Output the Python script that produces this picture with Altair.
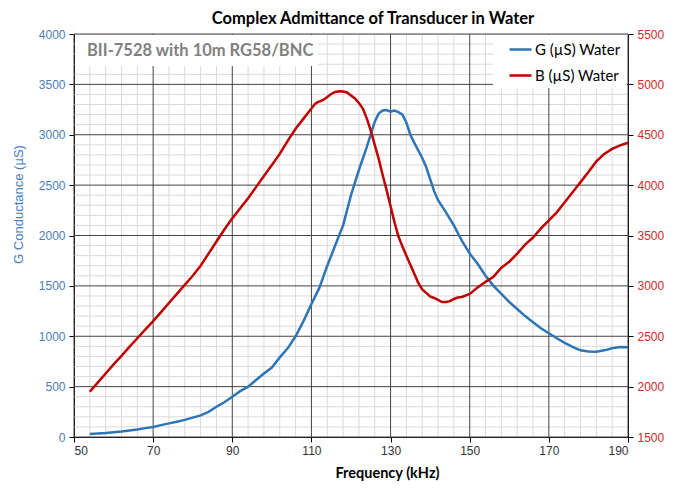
import altair as alt
import pandas as pd

# ---------------- data ----------------
freq_g = [54, 56, 58, 60, 62, 64, 66, 68, 70, 72, 74, 76, 78, 80, 82, 84, 86, 88, 90,
          92, 94, 96, 98, 100, 102, 104, 106, 108, 110, 112, 114, 116, 118, 120, 122,
          124, 126, 127, 128, 129, 130, 131, 132, 133, 134, 135, 136, 138, 139, 140,
          141, 142, 144, 146, 148, 150, 152, 154, 156, 158, 160, 162, 164, 166, 168,
          170, 172, 174, 176, 178, 180, 182, 184, 186, 188, 190]
g_vals = [30, 35, 40, 48, 55, 65, 75, 88, 100, 118, 135, 152, 170, 192, 215, 250, 300,
          345, 400, 455, 500, 565, 630, 690, 790, 880, 1000, 1150, 1320, 1480, 1700,
          1900, 2100, 2400, 2650, 2880, 3130, 3210, 3240, 3245, 3230, 3240, 3225, 3200,
          3120, 3000, 2920, 2770, 2680, 2560, 2440, 2350, 2230, 2100, 1950, 1820, 1720,
          1600, 1500, 1420, 1340, 1270, 1200, 1140, 1080, 1030, 980, 935, 895, 860, 848,
          847, 860, 880, 893, 890]

freq_b = [54, 56, 58, 60, 62, 64, 66, 68, 70, 72, 74, 76, 78, 80, 82, 84, 86, 88, 90,
          92, 94, 96, 98, 100, 102, 104, 106, 108, 110, 111, 112, 113, 114, 115, 116,
          117, 118, 119, 120, 121, 122, 123, 124, 125, 126, 127, 128, 129, 130, 131,
          132, 133, 134, 135, 136, 137, 138, 139, 140, 141, 142, 143, 144, 145, 146,
          147, 148, 150, 152, 154, 156, 158, 160, 162, 164, 166, 168, 170, 172, 174,
          176, 178, 180, 182, 184, 186, 188, 190]
b_vals = [1950, 2040, 2130, 2220, 2305, 2395, 2480, 2565, 2650, 2740, 2830, 2920, 3010,
          3100, 3200, 3320, 3440, 3560, 3670, 3770, 3870, 3980, 4090, 4200, 4310, 4440,
          4560, 4660, 4760, 4810, 4830, 4845, 4875, 4905, 4925, 4932, 4930, 4920, 4890,
          4860, 4815, 4760, 4660, 4540, 4400, 4260, 4100, 3950, 3790, 3630, 3490, 3390,
          3300, 3210, 3120, 3030, 2965, 2930, 2895, 2880, 2860, 2840, 2840, 2848, 2870,
          2885, 2890, 2920, 2985, 3040, 3090, 3180, 3240, 3320, 3410, 3480, 3570, 3650,
          3730, 3830, 3930, 4030, 4130, 4235, 4310, 4360, 4395, 4420]

x_major = [50, 70, 90, 110, 130, 150, 170, 190]
x_minor = list(range(54, 190, 4))
g_major = list(range(0, 4001, 500))
g_minor = list(range(0, 4001, 100))
b_ticks = list(range(1500, 5501, 500))

series_names = ["G (µS) Water", "B (µS) Water"]
chart_title = "Complex Admittance of Transducer in Water"
note_text = "BII-7528 with 10m RG58/BNC"
x_title = "Frequency (kHz)"
g_title = "G Conductance (µS)"

# ---------------- styling ----------------
BLUE = "#2E75B6"
RED = "#C00000"
BLUE_TXT = "#4A7EBB"
RED_TXT = "#D42A2A"
MAJOR = "#444444"
MINOR = "#D9D9D9"
W, H = 554, 403

df_g = pd.DataFrame({"f": freq_g, "v": g_vals})
df_b = pd.DataFrame({"f": freq_b, "v": b_vals})
df_xmin = pd.DataFrame({"f": [v for v in x_minor if v not in x_major]})
df_xmaj = pd.DataFrame({"f": x_major})
df_ymin = pd.DataFrame({"v": [v for v in g_minor if v not in g_major]})
df_ymaj = pd.DataFrame({"v": g_major})
df_one = pd.DataFrame({"a": [0]})

x_scale = alt.Scale(domain=[50, 190], nice=False, zero=False)
x_axis = alt.Axis(values=x_major, grid=False, title=x_title, format="d",
                  domainColor="#000000",
                  tickColor="#000000", tickSize=5, labelPadding=3,
                  labelFont="Liberation Sans", labelFontSize=12, labelColor="#333333",
                  titleFont="Lato", titleFontSize=14.5, titleFontWeight="bold",
                  titleColor="#000000", titleX=313, titleY=36,
                  titleBaseline="middle", titleAlign="center")


def X():
    return alt.X("f:Q", scale=x_scale, axis=x_axis)


g_scale = alt.Scale(domain=[0, 4000], nice=False, zero=False)
b_scale = alt.Scale(domain=[1500, 5500], nice=False, zero=False)

color = alt.Color("s:N", scale=alt.Scale(domain=series_names, range=[BLUE, RED]),
                  legend=alt.Legend(title=None, orient="none", legendX=431, legendY=0,
                                    padding=3, symbolType="stroke",
                                    symbolSize=484, symbolStrokeWidth=2.5,
                                    labelFont="Lato", labelFontSize=15,
                                    labelColor="#000000", rowPadding=5,
                                    labelOffset=2))

minor_v = alt.Chart(df_xmin).mark_rule(color=MINOR, strokeWidth=1).encode(x=X())
minor_h = alt.Chart(df_ymin).mark_rule(color=MINOR, strokeWidth=1).encode(
    y=alt.Y("v:Q", scale=g_scale, axis=None))
major_v = alt.Chart(df_xmaj).mark_rule(color=MAJOR, strokeWidth=1).encode(x=X())
major_h = alt.Chart(df_ymaj).mark_rule(color=MAJOR, strokeWidth=1).encode(
    y=alt.Y("v:Q", scale=g_scale, axis=None))

note_box = alt.Chart(df_one).mark_rect(fill="#FFFFFF", stroke=None).encode(
    x=alt.value(1), x2=alt.value(244), y=alt.value(1), y2=alt.value(32))
legend_box = alt.Chart(df_one).mark_rect(fill="#FFFFFF", stroke=None).encode(
    x=alt.value(419), x2=alt.value(553), y=alt.value(1), y2=alt.value(54))
note = alt.Chart(df_one).mark_text(font="Lato", fontSize=16.5, fontWeight="bold",
                                   color="#808080", align="left",
                                   baseline="middle").encode(
    x=alt.value(13), y=alt.value(17), text=alt.value(note_text))
title_txt = alt.Chart(df_one).mark_text(font="Lato", fontSize=16.5, fontWeight="bold",
                                        color="#000000", align="center",
                                        baseline="middle").encode(
    x=alt.value(299), y=alt.value(-15.5), text=alt.value(chart_title))

g_line = alt.Chart(df_g).mark_line(strokeWidth=2.5).transform_calculate(
    s="'" + series_names[0] + "'").encode(
    x=X(),
    y=alt.Y("v:Q", scale=g_scale,
            axis=alt.Axis(orient="left", values=g_major, grid=False, title=g_title,
                          format="d",
                          domainColor="#000000", tickColor="#000000", tickSize=5,
                          labelPadding=4, labelFont="Liberation Sans", labelFontSize=12,
                          labelColor=BLUE_TXT, titleFont="Liberation Sans",
                          titleFontSize=13, titleFontWeight="normal",
                          titleColor=BLUE_TXT, titleAngle=-90, titleX=-56,
                          titleY=170, titleBaseline="middle", titleAlign="center")),
    color=color)

b_line = alt.Chart(df_b).mark_line(strokeWidth=2.5).transform_calculate(
    s="'" + series_names[1] + "'").encode(
    x=X(),
    y=alt.Y("v:Q", scale=b_scale,
            axis=alt.Axis(orient="right", values=b_ticks, grid=False, title=None,
                          format="d",
                          domainColor="#000000", tickColor="#000000", tickSize=5,
                          labelPadding=4, labelFont="Liberation Sans", labelFontSize=12,
                          labelColor=RED_TXT)),
    color=color)

chart = alt.layer(minor_v, minor_h, major_v, major_h, note_box, legend_box, note,
                  title_txt, g_line, b_line).resolve_scale(y="independent").properties(
    width=W, height=H,
    autosize=alt.AutoSizeParams(type="none"),
    padding={"left": 66, "top": 26, "right": 40, "bottom": 44},
).configure_view(stroke=MAJOR, strokeWidth=1).configure(background="#FFFFFF")

chart.save("out.html", embed_options={"renderer": "svg", "actions": False})
